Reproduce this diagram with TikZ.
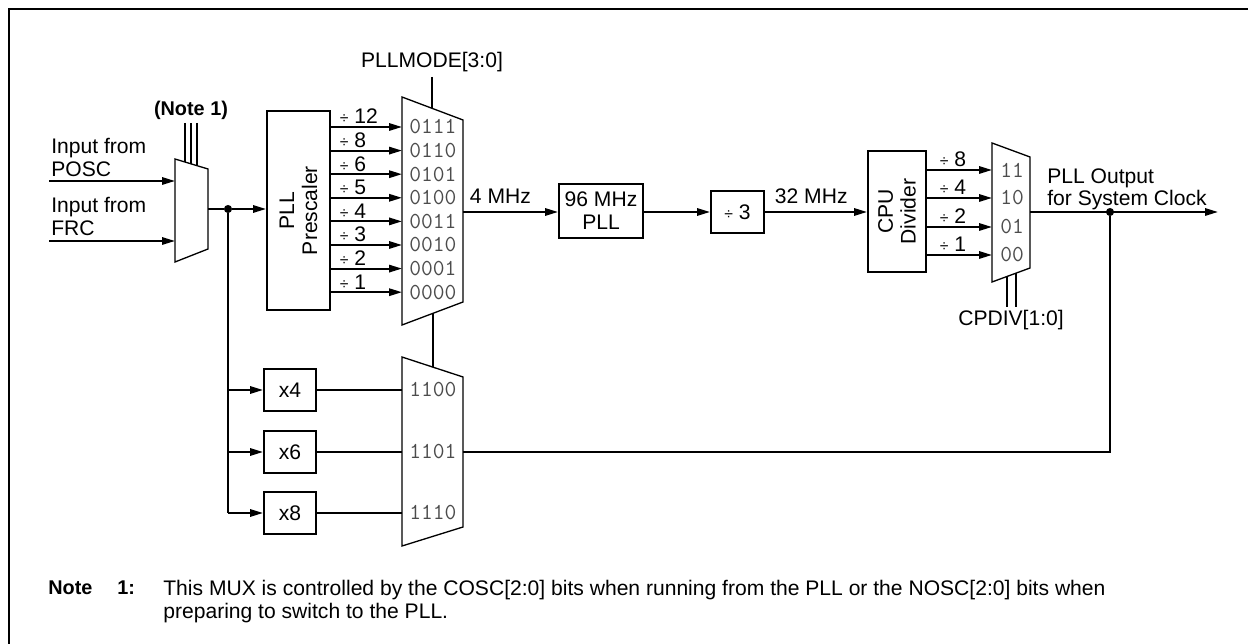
\documentclass[tikz,border=0pt]{standalone}
\usepackage{fontspec}
\setmainfont{Liberation Sans}
\usetikzlibrary{arrows.meta,positioning,calc}
\newcommand{\divsym}{{\fontsize{9}{9}\selectfont÷}\ }

\begin{document}
\begin{tikzpicture}[x=0.02cm,y=-0.02cm,
  >={Triangle[length=7.4pt,width=4.2pt]},
  wire/.style={line width=1.1pt},
  blk/.style={draw,line width=1.1pt,inner sep=0pt},
  mux/.style={draw,line width=0.75pt},
  txt/.style={font=\fontsize{12}{13}\selectfont,inner sep=0pt},
  bold/.style={font=\fontsize{11.3}{13}\selectfont\bfseries,inner sep=0pt},
  code/.style={font=\fontsize{13}{13}\ttfamily,text=black!70,inner sep=0pt},
  tap/.style={circle,fill,inner sep=0pt,minimum size=4.6pt}]

\useasboundingbox (0,0) rectangle (1248,644);
\draw[line width=1pt] (9,644) -- (9,9) -- (1248,9);

% input select mux
\draw[mux] (175,159) -- (208,169) -- (208,249) -- (175,262) -- cycle;
\coordinate (m0-1) at (175,181);
\coordinate (m0-2) at (175,241);
\coordinate (m0out) at (208,209);
\node[bold] (note) at (191,110) {(Note 1)};
\foreach \xx/\yy in {185/162,191/163.8,197/165.7}
  \draw[line width=0.9pt] (\xx,123) -- (\xx,\yy);

\coordinate (posc) at (49,181);
\coordinate (frc) at (49,241);
\node[txt,align=left,anchor=north west] at (51,138) {Input from\\POSC};
\node[txt,align=left,anchor=north west] at (51,197) {Input from\\FRC};
\draw[wire,->] (posc) -- (m0-1);
\draw[wire,->] (frc) -- (m0-2);

% prescaler
\node[blk,minimum width=1.26cm,minimum height=3.98cm] (pre) at (298.5,210.5) {};
\node[txt,rotate=90,align=center] at (pre) {PLL\\Prescaler};
\node[tap] (split) at (228,209) {};
\draw[wire] (m0out) -- (split);
\draw[wire,->] (split) -- (pre.west |- split);

% PLLMODE mux
\draw[mux] (402,97) -- (463,120) -- (463,302) -- (402,325) -- cycle;
\node[txt] (mode) at (432,62) {PLLMODE[3:0]};
\draw[wire] (432,77) -- (432,108.3);
\foreach \d/\yy/\c [count=\i] in {12/127/0111,8/150.6/0110,6/174.2/0101,5/197.8/0100,4/221.4/0011,3/245/0010,2/268.6/0001,1/292.2/0000}{
  \coordinate (m1-\i) at (402,\yy);
  \draw[wire,->] (pre.east |- m1-\i) -- (m1-\i)
    node[txt,pos=0,anchor=base west,xshift=0.16cm,yshift=0.06cm] {\divsym\d};
  \node[code,right=0.14cm of m1-\i] {\c};
}

% multiplier mux
\draw[mux] (402,357) -- (463,377) -- (463,527) -- (402,546) -- cycle;
\draw[wire] (433,313.3) -- (433,367);
\foreach \m/\yy/\c [count=\i] in {4/390/1100,6/452/1101,8/513/1110}{
  \node[blk,txt,minimum width=1.04cm,minimum height=0.84cm] (x\m) at (290,\yy) {x\m};
  \coordinate (m2-\i) at (402,\yy);
  \draw[wire,->] (split |- x\m) -- (x\m);
  \draw[wire] (x\m) -- (m2-\i);
  \node[code,right=0.14cm of m2-\i] {\c};
}
\draw[wire] (split) -- (split |- x8);

% PLL chain
\coordinate (m1out) at (463,212);
\node[blk,txt,align=center,minimum width=1.68cm,minimum height=1.08cm] (pll) at (601,211) {96 MHz\\PLL};
\node[blk,txt,minimum width=1.06cm,minimum height=0.84cm] (div3) at (737.5,212) {\divsym3};
\node[blk,minimum width=1.16cm,minimum height=2.42cm] (cpu) at (897,211.5) {};
\node[txt,rotate=90,align=center] at (cpu) {CPU\\Divider};
\draw[wire,->] (m1out) -- (pll.west |- m1out)
  node[txt,pos=0,anchor=base west,xshift=0.12cm,yshift=0.16cm] {4 MHz};
\draw[wire,->] (pll.east |- m1out) -- (div3);
\draw[wire,->] (div3) -- (cpu.west |- div3)
  node[txt,pos=0,anchor=base west,xshift=0.18cm,yshift=0.16cm] {32 MHz};

% CPDIV mux
\draw[mux] (992,143) -- (1030,157) -- (1030,268) -- (992,282) -- cycle;
\foreach \d/\yy/\c [count=\i] in {8/170/11,4/198/10,2/227/01,1/255/00}{
  \coordinate (m3-\i) at (992,\yy);
  \draw[wire,->] (cpu.east |- m3-\i) -- (m3-\i)
    node[txt,pos=0,anchor=base west,xshift=0.24cm,yshift=0.06cm] {\divsym\d};
  \node[code,right=0.16cm of m3-\i] {\c};
}
\node[txt] (cpdiv) at (1011,320) {CPDIV[1:0]};
\draw[line width=0.9pt] (1007,276.5) -- (1007,307) (1016,273.2) -- (1016,307);

% output and feedback
\coordinate (m3out) at (1030,212);
\coordinate (clk) at (1218,212);
\node[tap] (fb) at (1110,212) {};
\draw[wire,->] (m3out) -- (clk);
\node[txt,align=left,anchor=north west] at (1047,168) {PLL Output\\for System Clock};
\coordinate (m2out) at (463,452);
\draw[wire] (fb) |- (m2out);

% note
\node[bold,anchor=north west] at (48,580) {Note};
\node[bold,anchor=north west] at (117,580) {1:};
\node[txt,align=left,anchor=north west] at (163,580) {This MUX is controlled by the COSC[2:0] bits when running from the PLL or the NOSC[2:0] bits when\\preparing to switch to the PLL.};
\end{tikzpicture}
\end{document}
